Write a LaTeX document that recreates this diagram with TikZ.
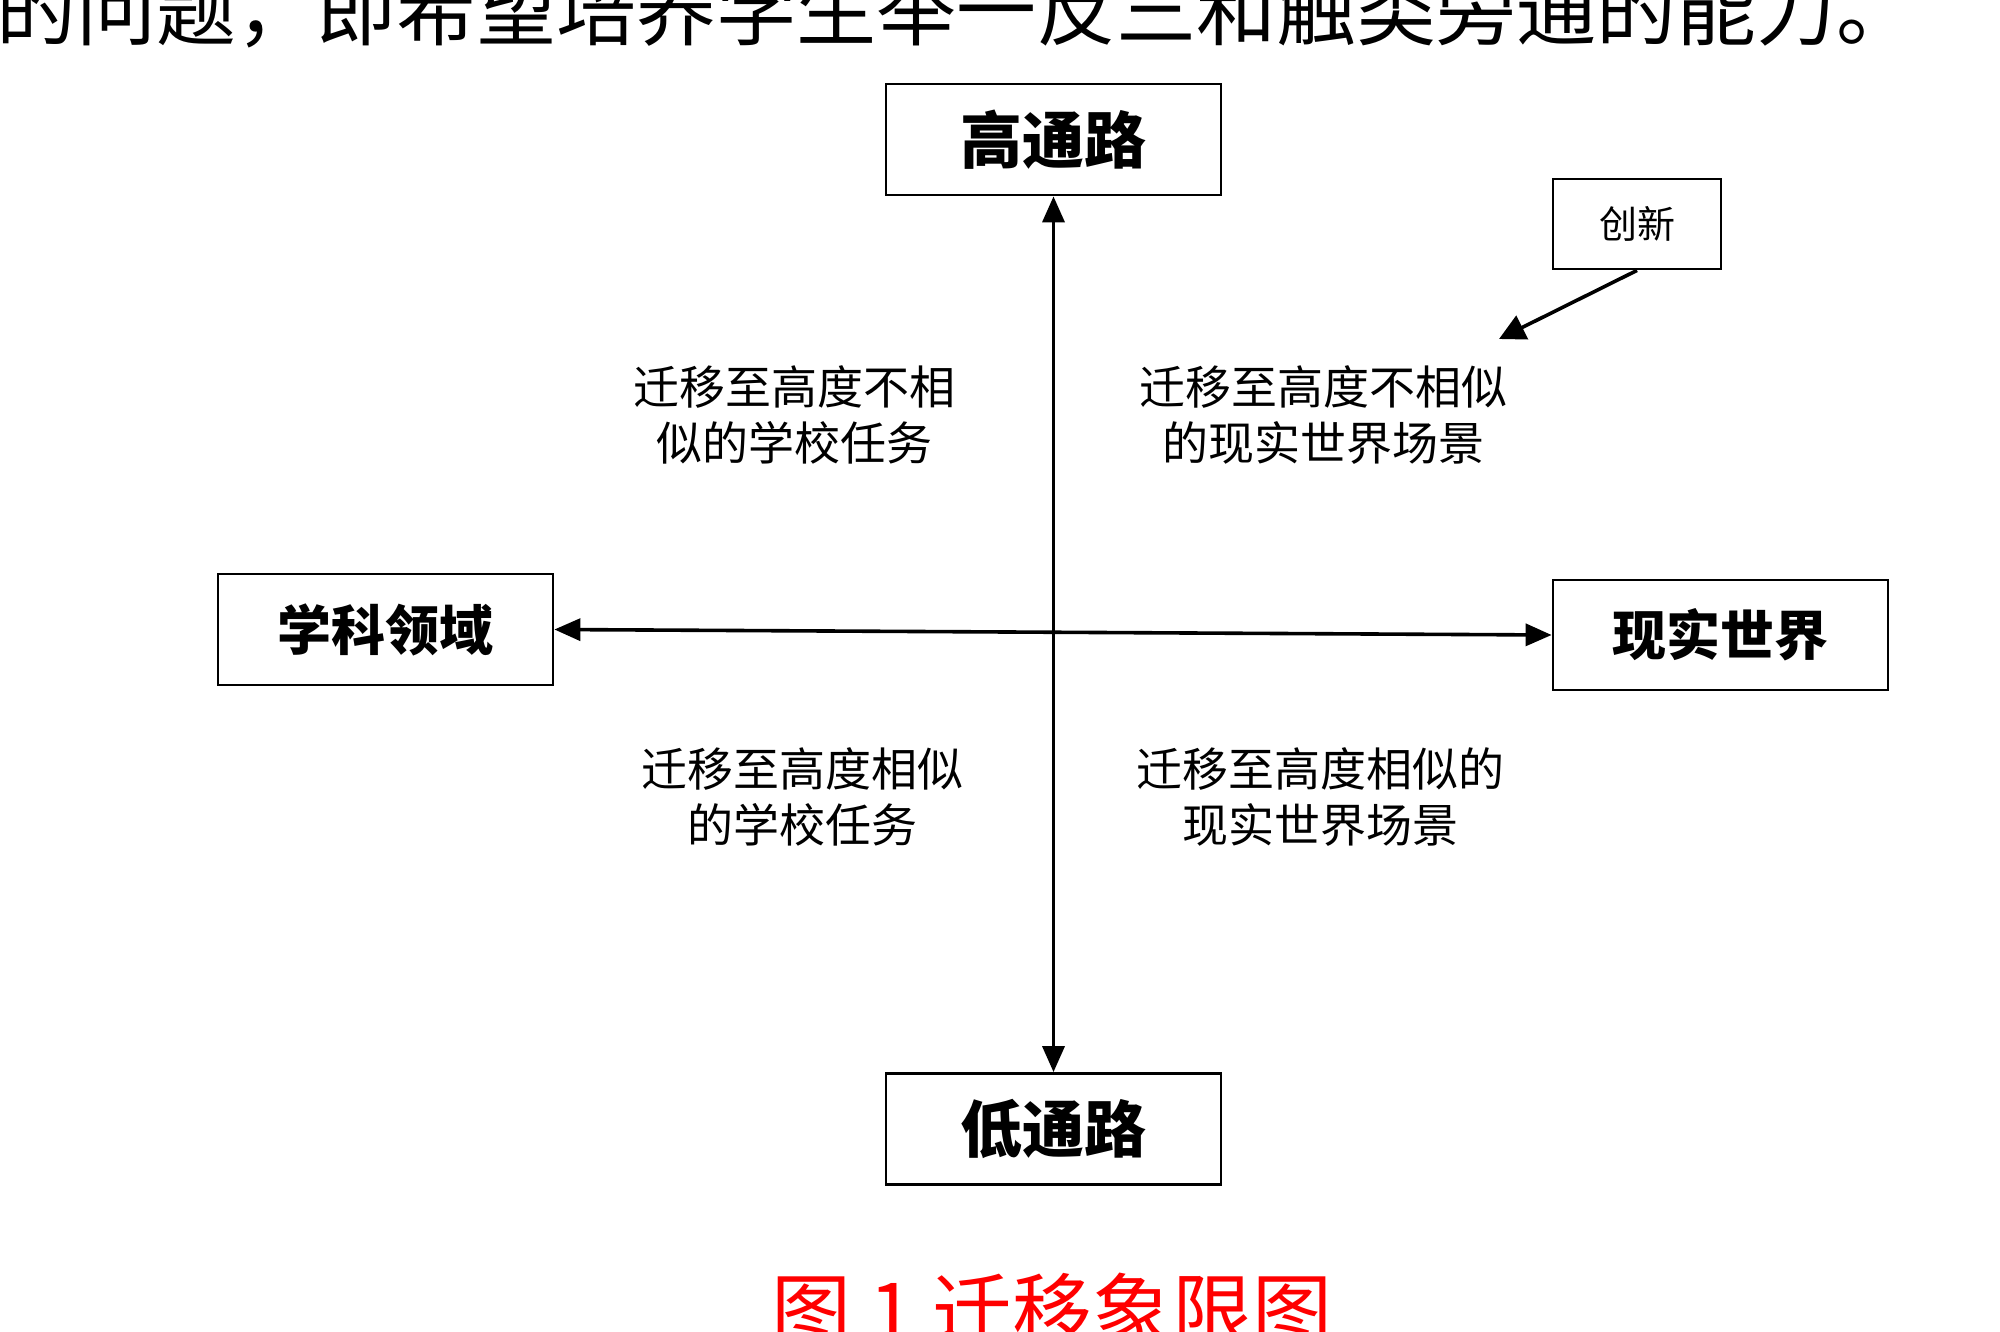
\documentclass[tikz,border=0pt]{standalone}
\usepackage{fontspec}
\setmainfont{Noto Sans CJK SC}
\usetikzlibrary{arrows.meta}
\tikzset{
  box/.style={draw=black, line width=2.8pt, fill=white, minimum width=335pt, minimum height=111pt, inner sep=0pt},
  bigtxt/.style={font=\fontsize{62}{70}\selectfont\bfseries},
  midtxt/.style={font=\fontsize{54}{62}\selectfont\bfseries},
  quad/.style={align=center, inner sep=0pt, font=\fontsize{46}{56}\selectfont},
  axis/.style={line width=3.6pt, {Triangle[length=26pt,width=22pt]}-{Triangle[length=26pt,width=22pt]}},
  onearrow/.style={line width=3.6pt, -{Triangle[length=26pt,width=26pt]}}
}
\begin{document}
\begin{tikzpicture}[x=1pt,y=-1pt]
\useasboundingbox (0,0) rectangle (2000,1332);
\fill[white] (0,0) rectangle (2000,1332);
% top paragraph line (cut off)
\node[anchor=west, inner sep=0pt, font=\fontsize{80}{82}\selectfont] (para) at (-4,10) {的问题，即希望培养学生举一反三和触类旁通的能力。};
% boxes
\node[box, bigtxt] (high) at (1053.5,139.5) {高通路};
\node[box, bigtxt] (low) at (1053.5,1129) {低通路};
\node[box, midtxt] (left) at (385.5,629.5) {学科领域};
\node[box, midtxt, minimum height=110pt] (right) at (1720.5,635) {现实世界};
\node[box, minimum width=168pt, minimum height=90pt, font=\fontsize{38}{44}\selectfont] (innov) at (1637,224) {创新};
% axes
\draw[axis] (high.south) -- (low.north);
\draw[axis] (left.east) -- (right.west);
\coordinate (innovtip) at (1499,339);
\draw[onearrow] (innov.south) -- (innovtip);
% quadrant texts
\node[quad] (tl) at (794,415) {迁移至高度不相\\似的学校任务};
\node[quad] (tr) at (1323,415) {迁移至高度不相似\\的现实世界场景};
\node[quad] (bl) at (802,797) {迁移至高度相似\\的学校任务};
\node[quad] (br) at (1320,797) {迁移至高度相似的\\现实世界场景};
% caption
\node[text=red, inner sep=0pt, font=\fontsize{80}{82}\selectfont] (cap) at (1052,1310) {图 1 迁移象限图};
\end{tikzpicture}
\end{document}
